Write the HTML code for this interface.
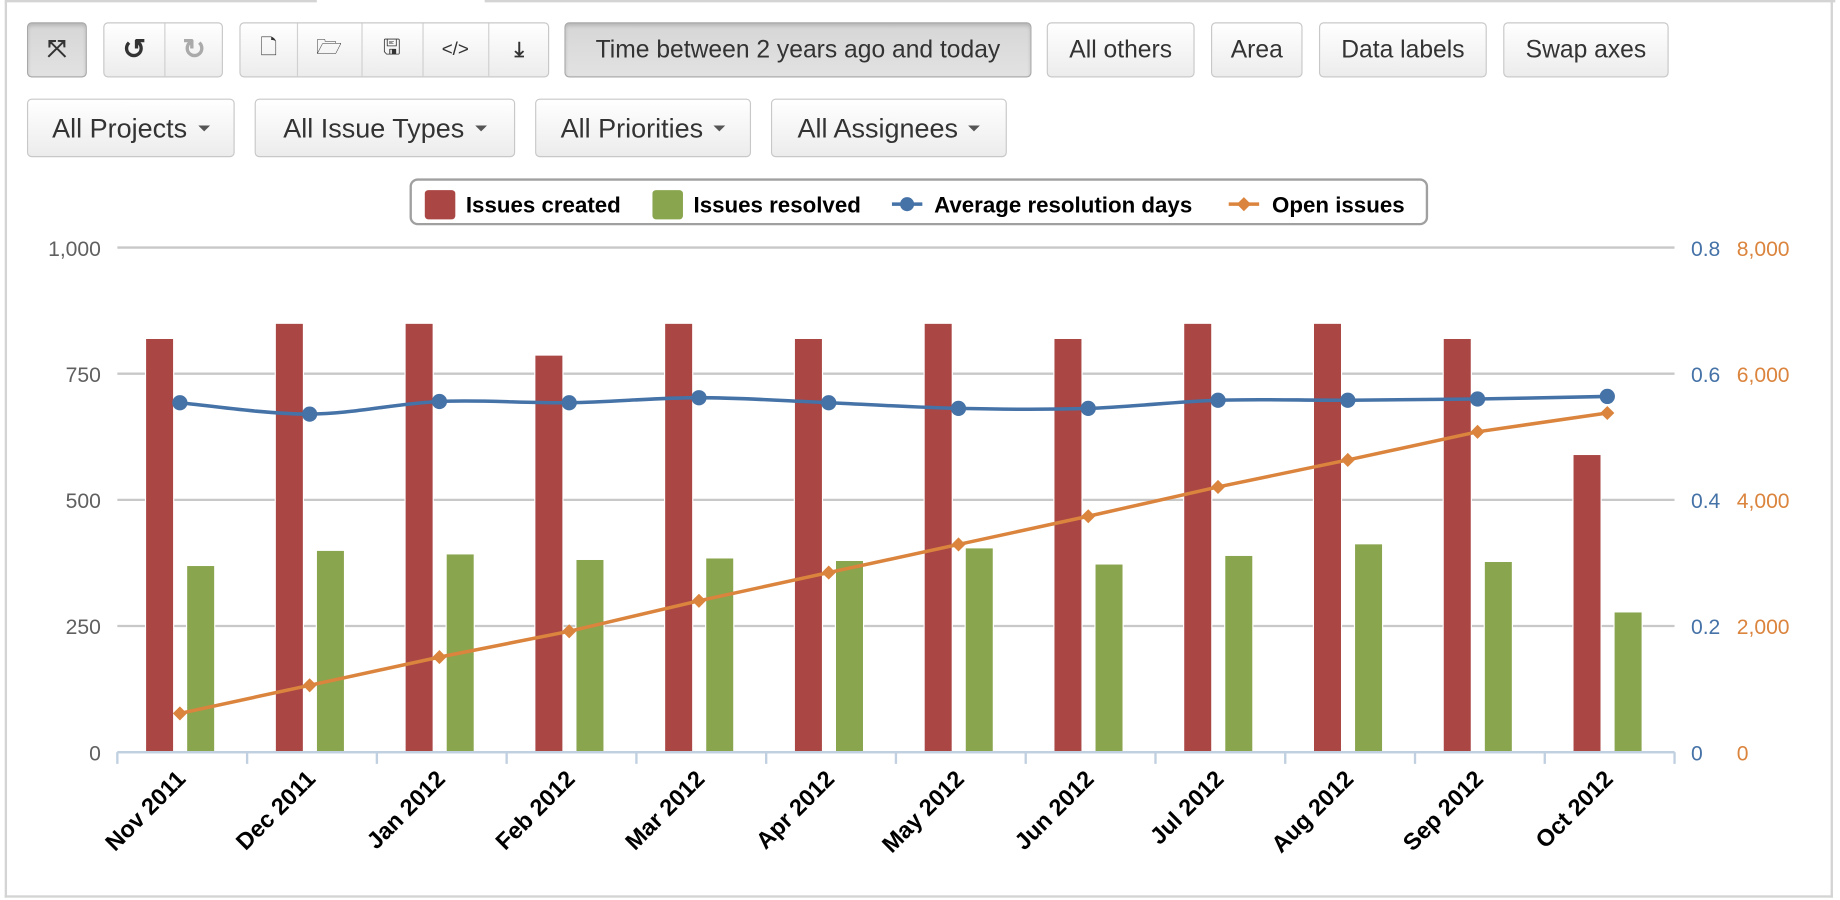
<!DOCTYPE html>
<html><head><meta charset="utf-8">
<style>
html,body{margin:0;padding:0;background:#fff;overflow:hidden;width:1840px;height:900px}
#wrap{position:absolute;left:0;top:0;width:1568px;height:767px;transform:scale(1.17347,1.1734);transform-origin:0 0;font-family:"Liberation Sans",sans-serif}
.frame{position:absolute;left:4px;top:1px;width:1558px;height:764px;border:2px solid #d4d4d4;border-top:none;box-sizing:border-box}
.tl{position:absolute;top:0;height:2px;background:#d4d4d4}
.btn{position:absolute;box-sizing:border-box;border:1px solid #c8c8c8;border-radius:4px;background:linear-gradient(#fff,#ececec);color:#333;font-size:21px;display:flex;align-items:center;justify-content:center;white-space:nowrap}
.act{background:linear-gradient(#d6d6d6,#e2e2e2);border-color:#a8a8a8;box-shadow:inset 0 2px 3px rgba(0,0,0,.15)}
.seg{position:absolute;top:0;bottom:0;display:flex;align-items:center;justify-content:center;border-right:1px solid #d0d0d0;font-size:18px}
.caret{display:inline-block;width:0;height:0;border-left:5px solid transparent;border-right:5px solid transparent;border-top:5px solid #555;margin-left:9px}
.legend{position:absolute;left:349px;top:152px;width:868px;height:40px;box-sizing:border-box;border:2px solid #a0a0a0;border-radius:7px;font-weight:bold;font-size:19px;color:#000}
.li{position:absolute;top:11px}
.sw{position:absolute;top:8px;width:26px;height:25px;border-radius:3px}
</style></head><body>
<div id="wrap">
<div class="tl" style="left:4px;width:266px"></div>
<div class="tl" style="left:413px;width:1151px"></div>
<div class="frame"></div>

<div class="btn act" style="left:23px;top:19px;width:51px;height:47px;font-size:20px;font-weight:bold">⤧</div>
<div class="btn" style="left:88px;top:19px;width:102px;height:47px">
 <div class="seg" style="left:0;width:51px;font-size:24px;font-weight:bold">↺</div>
 <div class="seg" style="left:51px;width:51px;border:none;color:#aaa;font-size:24px;font-weight:bold">↻</div>
</div>
<div class="btn" style="left:204px;top:19px;width:264px;height:47px">
 <div class="seg" style="left:0;width:48px">🗋</div>
 <div class="seg" style="left:48px;width:55px">🗁</div>
 <div class="seg" style="left:103px;width:52px">🖫</div>
 <div class="seg" style="left:155px;width:56px;font-size:16px">&lt;/&gt;</div>
 <div class="seg" style="left:211px;width:53px;border:none;font-weight:bold">⤓</div>
</div>
<div class="btn act" style="left:481px;top:19px;width:398px;height:47px">Time between 2 years ago and today</div>
<div class="btn" style="left:892px;top:19px;width:126px;height:47px">All others</div>
<div class="btn" style="left:1032px;top:19px;width:78px;height:47px">Area</div>
<div class="btn" style="left:1124px;top:19px;width:143px;height:47px">Data labels</div>
<div class="btn" style="left:1281px;top:19px;width:141px;height:47px">Swap axes</div>

<div class="btn" style="left:23px;top:84px;width:177px;height:50px;font-size:23px">All Projects<span class="caret"></span></div>
<div class="btn" style="left:217px;top:84px;width:222px;height:50px;font-size:23px">All Issue Types<span class="caret"></span></div>
<div class="btn" style="left:456px;top:84px;width:184px;height:50px;font-size:23px">All Priorities<span class="caret"></span></div>
<div class="btn" style="left:657px;top:84px;width:201px;height:50px;font-size:23px">All Assignees<span class="caret"></span></div>

<div class="legend">
 <div class="sw" style="left:11px;background:#aa4644"></div>
 <div class="li" style="left:46px">Issues created</div>
 <div class="sw" style="left:205px;background:#89a54e"></div>
 <div class="li" style="left:240px">Issues resolved</div>
 <svg style="position:absolute;left:409px;top:10px" width="28" height="20"><line x1="0" y1="10" x2="26" y2="10" stroke="#4572a7" stroke-width="3"/><circle cx="13" cy="10" r="6" fill="#4572a7"/></svg>
 <div class="li" style="left:445px">Average resolution days</div>
 <svg style="position:absolute;left:696px;top:10px" width="28" height="20"><line x1="0" y1="10" x2="26" y2="10" stroke="#db843d" stroke-width="3"/><polygon points="13,4 19,10 13,16 7,10" fill="#db843d"/></svg>
 <div class="li" style="left:733px">Open issues</div>
</div>

<svg id="chart" style="position:absolute;left:0;top:0" width="1568" height="767"></svg>
</div>
<script>
const categories=["Nov 2011","Dec 2011","Jan 2012","Feb 2012","Mar 2012","Apr 2012","May 2012","Jun 2012","Jul 2012","Aug 2012","Sep 2012","Oct 2012"];
const created=[820,850,850,787,850,820,850,820,850,850,820,590];
const resolved=[370,400,393,382,385,380,405,373,390,413,378,278];
const avgDays=[0.554,0.536,0.556,0.554,0.562,0.554,0.545,0.545,0.558,0.558,0.560,0.564];
const openIssues=[614,1060,1507,1916,2400,2847,3293,3740,4205,4633,5079,5377];
const leftTicks=[0,250,500,750,1000];
const leftTickLabels=["0","250","500","750","1,000"];
const midTicks=[0,0.2,0.4,0.6,0.8];
const midTickLabels=["0","0.2","0.4","0.6","0.8"];
const rightTicks=[0,2000,4000,6000,8000];
const rightTickLabels=["0","2,000","4,000","6,000","8,000"];

const NS="http://www.w3.org/2000/svg";
const svg=document.getElementById('chart');
const X0=100,X1=1427,Y0=641,Y1=211;
const cw=(X1-X0)/categories.length;
const yL=v=>Y0-(v/1000)*(Y0-Y1);
const yM=v=>Y0-(v/0.8)*(Y0-Y1);
const yR=v=>Y0-(v/8000)*(Y0-Y1);
const xC=i=>X0+cw*(i+0.5)-2;
function mk(tag,attrs,parent){const e=document.createElementNS(NS,tag);for(const k in attrs)e.setAttribute(k,attrs[k]);(parent||svg).appendChild(e);return e;}

leftTicks.forEach((t,i)=>{
 const g=mk('line',{x1:X0,x2:X1,y1:yL(t),y2:yL(t),stroke:i===0?'#c0d0e0':'#c8c8c8','stroke-width':2});
 
 
 const a=mk('text',{x:86,y:yL(t)+7,'text-anchor':'end','font-size':18,fill:'#606060','font-family':'Liberation Sans, sans-serif'});a.textContent=leftTickLabels[i];
 
 
});
midTicks.forEach((t,i)=>{
 const a=mk('text',{x:1441,y:yM(t)+7,'font-size':18,fill:'#4572a7','font-family':'Liberation Sans, sans-serif'});a.textContent=midTickLabels[i];
 
 
});
rightTicks.forEach((t,i)=>{
 const a=mk('text',{x:1480,y:yR(t)+7,'font-size':18,fill:'#db843d','font-family':'Liberation Sans, sans-serif'});a.textContent=rightTickLabels[i];
 
 
});
for(let i=0;i<=categories.length;i++){
 const t=mk('line',{x1:X0+cw*i,x2:X0+cw*i,y1:Y0,y2:Y0+10,stroke:'#c0d0e0','stroke-width':2});
 
 
}
categories.forEach((c,i)=>{
 const x=X0+cw*i+24;
 const b=mk('rect',{x:x,y:yL(created[i]),width:24,height:Y0-yL(created[i]),fill:'#aa4644',stroke:'#fff','stroke-width':1});
 
 
 const g=mk('rect',{x:x+35,y:yL(resolved[i]),width:24,height:Y0-yL(resolved[i]),fill:'#89a54e',stroke:'#fff','stroke-width':1});
 
 
 const tx=xC(i)+6,ty=Y0+24;
 const l=mk('text',{x:tx,y:ty,'text-anchor':'end','font-size':20,'font-weight':'bold',fill:'#000','font-family':'Liberation Sans, sans-serif',transform:`rotate(-45 ${tx} ${ty})`});
 l.textContent=c;
 
 
});
mk('line',{x1:X0,x2:X1,y1:Y0,y2:Y0,stroke:'#c0d0e0','stroke-width':2});
const bp=avgDays.map((v,i)=>[xC(i),yM(v)]);
let d=`M${bp[0][0]},${bp[0][1]}`;
for(let i=0;i<bp.length-1;i++){
 const p0=bp[Math.max(0,i-1)],p1=bp[i],p2=bp[i+1],p3=bp[Math.min(bp.length-1,i+2)];
 const c1=[p1[0]+(p2[0]-p0[0])/6,p1[1]+(p2[1]-p0[1])/6],c2=[p2[0]-(p3[0]-p1[0])/6,p2[1]-(p3[1]-p1[1])/6];
 d+=` C${c1[0]},${c1[1]} ${c2[0]},${c2[1]} ${p2[0]},${p2[1]}`;
}
const bl=mk('path',{d:d,fill:'none',stroke:'#4572a7','stroke-width':3});


bp.forEach(p=>{const c=mk('circle',{cx:p[0],cy:p[1],r:6.5,fill:'#4572a7'});
 
 });
const op=openIssues.map((v,i)=>[xC(i),yR(v)]);
const ol=mk('polyline',{points:op.map(p=>p.join(',')).join(' '),fill:'none',stroke:'#db843d','stroke-width':3});


op.forEach(p=>{const q=mk('polygon',{points:`${p[0]},${p[1]-6} ${p[0]+6},${p[1]} ${p[0]},${p[1]+6} ${p[0]-6},${p[1]}`,fill:'#db843d'});
 
 });
</script>
</body></html>
